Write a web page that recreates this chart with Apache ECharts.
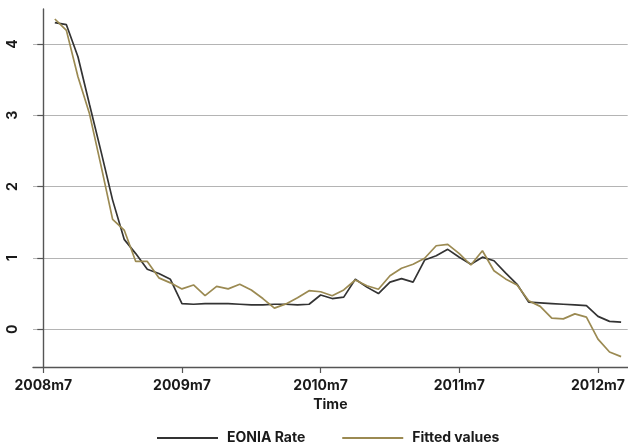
<!DOCTYPE html>
<html>
<head>
<meta charset="utf-8">
<script src="https://cdn.jsdelivr.net/npm/echarts@6/dist/echarts.min.js"></script>
<style>
  html, body { margin: 0; padding: 0; background: #ffffff; }
  #chart { width: 628px; height: 446px; }
</style>
</head>
<body>
<div id="chart"></div>
<script>
// Monthly periods, Stata-style labels
const periods = [
  '2008m8','2008m9','2008m10','2008m11','2008m12',
  '2009m1','2009m2','2009m3','2009m4','2009m5','2009m6','2009m7','2009m8','2009m9','2009m10','2009m11','2009m12',
  '2010m1','2010m2','2010m3','2010m4','2010m5','2010m6','2010m7','2010m8','2010m9','2010m10','2010m11','2010m12',
  '2011m1','2011m2','2011m3','2011m4','2011m5','2011m6','2011m7','2011m8','2011m9','2011m10','2011m11','2011m12',
  '2012m1','2012m2','2012m3','2012m4','2012m5','2012m6','2012m7','2012m8','2012m9'
];

// EONIA monthly average rate (%)
const eonia = [
  4.30, 4.27, 3.82, 3.15, 2.49,
  1.81, 1.26, 1.06, 0.84, 0.78, 0.70, 0.36, 0.35, 0.36, 0.36, 0.36, 0.35,
  0.34, 0.34, 0.35, 0.35, 0.34, 0.35, 0.48, 0.43, 0.45, 0.70, 0.59, 0.50,
  0.66, 0.71, 0.66, 0.97, 1.03, 1.12, 1.01, 0.91, 1.01, 0.96, 0.79, 0.63,
  0.38, 0.37, 0.36, 0.35, 0.34, 0.33, 0.18, 0.11, 0.10
];

// Fitted values from the regression
const fitted = [
  4.35, 4.19, 3.54, 3.02, 2.29,
  1.54, 1.39, 0.95, 0.95, 0.72, 0.65, 0.565, 0.62, 0.47, 0.60, 0.565, 0.63,
  0.55, 0.43, 0.295, 0.355, 0.44, 0.54, 0.525, 0.47, 0.55, 0.69, 0.61, 0.56,
  0.75, 0.855, 0.91, 0.995, 1.17, 1.19, 1.06, 0.90, 1.10, 0.82, 0.705, 0.62,
  0.40, 0.32, 0.155, 0.145, 0.215, 0.17, -0.14, -0.32, -0.385
];

const xTickLabels = ['2008m7', '2009m7', '2010m7', '2011m7', '2012m7'];
const yTickValues = [0, 1, 2, 3, 4];

// Stata monthly period -> months since 2008m7
function monthIndex(p) {
  const parts = p.split('m');
  return (parseInt(parts[0], 10) - 2008) * 12 + (parseInt(parts[1], 10) - 7);
}
const xTickValues = xTickLabels.map(monthIndex);
const labelByIndex = {};
xTickLabels.forEach(function (l) { labelByIndex[monthIndex(l)] = l; });

const eoniaData = periods.map(function (p, i) { return [monthIndex(p), eonia[i]]; });
const fittedData = periods.map(function (p, i) { return [monthIndex(p), fitted[i]]; });

const FONT = 'Inter';
const WEIGHT = 700;
const TEXT_COLOR = '#1a1a1a';

const chart = echarts.init(document.getElementById('chart'), null, { renderer: 'canvas' });
chart.setOption({
  animation: false,
  backgroundColor: '#ffffff',
  grid: { left: 33, right: 0, top: 9, bottom: 79, containLabel: false },
  xAxis: {
    type: 'value',
    min: -0.89,
    max: 50.57,
    name: 'Time',
    nameLocation: 'middle',
    nameGap: 30,
    nameTextStyle: { fontFamily: FONT, fontWeight: WEIGHT, fontSize: 14, color: TEXT_COLOR },
    axisLine: { show: true, onZero: false, lineStyle: { color: '#555555', width: 1.4 } },
    axisTick: { show: true, length: 6, customValues: xTickValues, lineStyle: { color: '#555555', width: 1.2 } },
    axisLabel: {
      customValues: xTickValues,
      margin: 12,
      fontFamily: FONT, fontWeight: WEIGHT, fontSize: 14, color: TEXT_COLOR,
      formatter: function (v) { return labelByIndex[Math.round(v)] || ''; }
    },
    splitLine: { show: false }
  },
  yAxis: {
    type: 'value',
    min: -0.53,
    max: 4.49,
    axisLine: { show: true, lineStyle: { color: '#555555', width: 1.4 } },
    axisTick: { show: true, length: 6, customValues: yTickValues, lineStyle: { color: '#555555', width: 1.2 } },
    axisLabel: {
      customValues: yTickValues,
      rotate: 90,
      margin: 13,
      fontFamily: FONT, fontWeight: WEIGHT, fontSize: 14, color: TEXT_COLOR
    },
    splitLine: { show: true, lineStyle: { color: '#b4b4b4', width: 1.2 } }
  },
  legend: {
    left: 152,
    top: 426,
    itemWidth: 61,
    itemHeight: 2,
    itemGap: 37,
    icon: 'rect',
    textStyle: { fontFamily: FONT, fontWeight: WEIGHT, fontSize: 14, color: TEXT_COLOR, padding: [0, 0, 0, 4] },
    data: ['EONIA Rate', 'Fitted values']
  },
  series: [
    {
      name: 'EONIA Rate',
      type: 'line',
      data: eoniaData,
      showSymbol: false,
      lineStyle: { color: '#333333', width: 1.7 },
      itemStyle: { color: '#333333' },
      z: 3
    },
    {
      name: 'Fitted values',
      type: 'line',
      data: fittedData,
      showSymbol: false,
      lineStyle: { color: '#9b8a52', width: 1.7 },
      itemStyle: { color: '#9b8a52' },
      z: 4
    }
  ]
});
</script>
</body>
</html>
